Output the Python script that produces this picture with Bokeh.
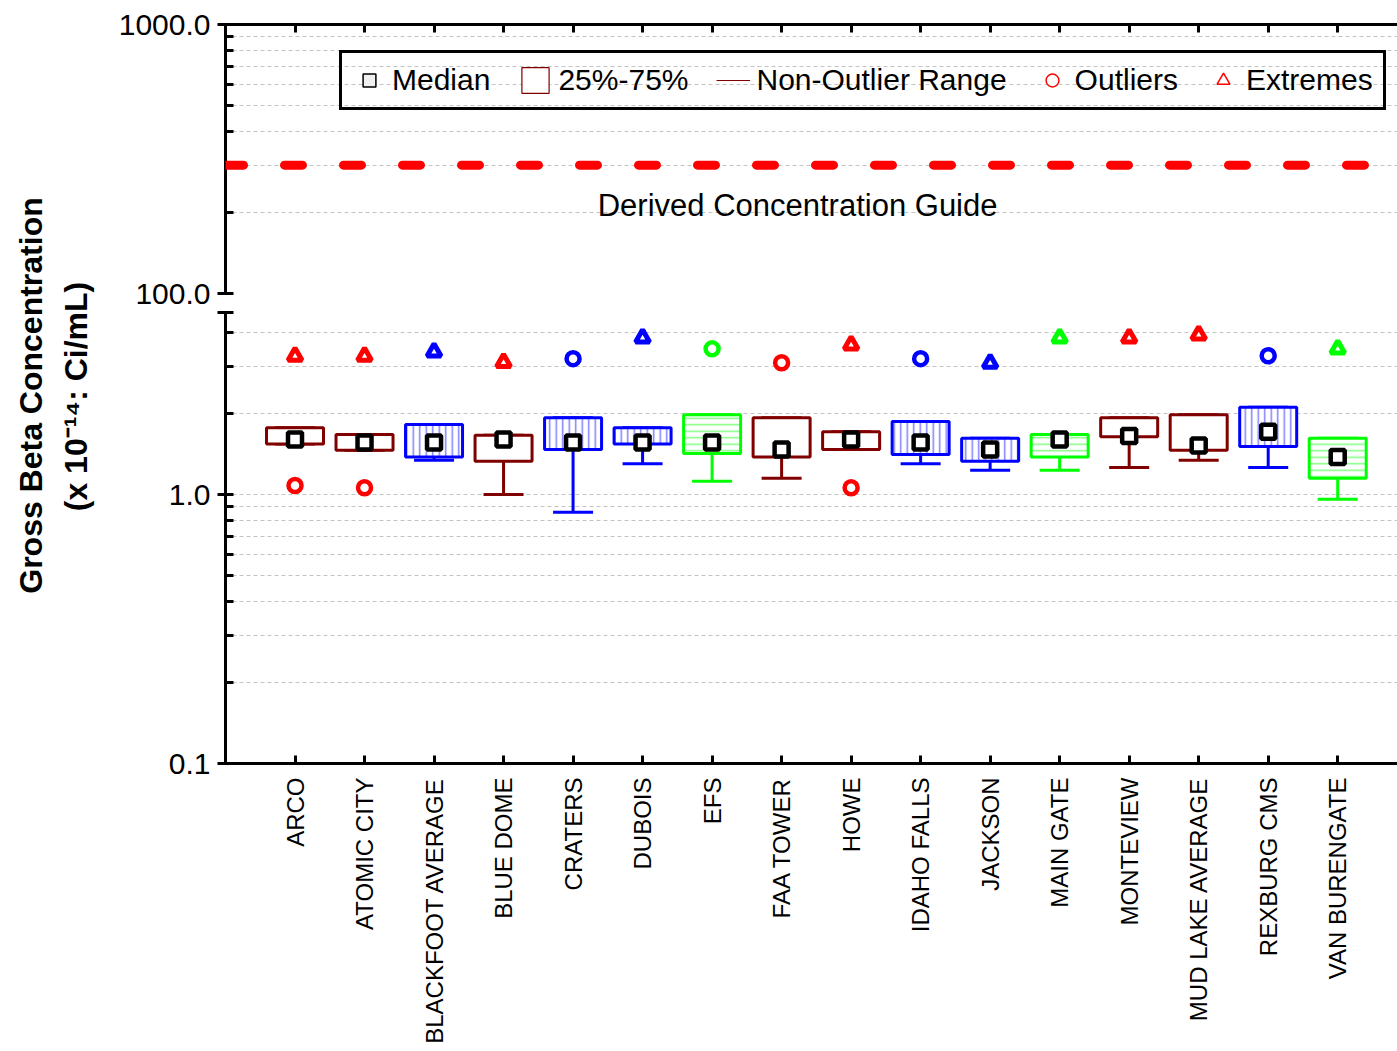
import math
from bokeh.plotting import figure
from bokeh.layouts import row, column
from bokeh.models import (ColumnDataSource, FixedTicker, CustomJSTickFormatter, Span, Label,
                          Legend, LegendItem, Range1d)
from bokeh.embed import file_html
from bokeh.resources import INLINE

# ---------------- data ----------------
categories = ["ARCO", "ATOMIC CITY", "BLACKFOOT AVERAGE", "BLUE DOME", "CRATERS", "DUBOIS", "EFS",
              "FAA TOWER", "HOWE", "IDAHO FALLS", "JACKSON", "MAIN GATE", "MONTEVIEW",
              "MUD LAKE AVERAGE", "REXBURG CMS", "VAN BURENGATE"]
station_group = ["Boundary", "Boundary", "Distant", "Boundary", "Distant", "Distant", "INL Site",
                 "Boundary", "Boundary", "Distant", "Distant", "INL Site", "Boundary",
                 "Boundary", "Distant", "INL Site"]
median = [1.60, 1.56, 1.56, 1.60, 1.56, 1.56, 1.56, 1.47, 1.60, 1.56, 1.47, 1.60, 1.65, 1.52, 1.71, 1.38]
q1 = [1.54, 1.46, 1.38, 1.33, 1.47, 1.54, 1.42, 1.38, 1.47, 1.41, 1.33, 1.38, 1.64, 1.46, 1.51, 1.15]
q3 = [1.77, 1.67, 1.82, 1.66, 1.93, 1.77, 1.98, 1.93, 1.71, 1.87, 1.62, 1.67, 1.93, 1.98, 2.11, 1.62]
nonoutlier_min = [1.54, 1.46, 1.34, 1.00, 0.86, 1.30, 1.12, 1.15, 1.47, 1.30, 1.23, 1.23, 1.26, 1.34, 1.26, 0.96]
nonoutlier_max = [1.77, 1.67, 1.82, 1.66, 1.93, 1.77, 1.98, 1.93, 1.71, 1.87, 1.62, 1.67, 1.93, 1.98, 2.11, 1.62]

outlier_station = ["ARCO", "ATOMIC CITY", "CRATERS", "EFS", "FAA TOWER", "HOWE", "IDAHO FALLS", "REXBURG CMS"]
outlier_value = [1.08, 1.06, 3.20, 3.48, 3.09, 1.06, 3.20, 3.28]
extreme_station = ["ARCO", "ATOMIC CITY", "BLACKFOOT AVERAGE", "BLUE DOME", "DUBOIS", "HOWE", "JACKSON",
                   "MAIN GATE", "MONTEVIEW", "MUD LAKE AVERAGE", "VAN BURENGATE"]
extreme_value = [3.27, 3.27, 3.39, 3.10, 3.82, 3.60, 3.08, 3.82, 3.82, 3.92, 3.48]

dcg_value = 300.0
dcg_label = "Derived Concentration Guide"
upper_range = (100, 1000)
lower_range = (0.1, 4.75)
upper_major_ticks = [100, 1000]
upper_minor_ticks = [200, 300, 400, 500, 600, 700, 800, 900]
lower_major_ticks = [0.1, 1, 4.75]
lower_minor_ticks = [0.2, 0.3, 0.4, 0.5, 0.6, 0.7, 0.8, 0.9, 2, 3, 4]
ylabel_1 = "Gross Beta Concentration"
ylabel_2 = "(x 10\u207b\u00b9\u2074: Ci/mL)"

# ---------------- styles ----------------
FONT = "Liberation Sans"
box_color = {"Boundary": "#800000", "Distant": "#0000ff", "INL Site": "#00ff00"}
point_color = {"Boundary": "#ff0000", "Distant": "#0000ff", "INL Site": "#00ff00"}
hatch_kind = {"Boundary": " ", "Distant": "|", "INL Site": "-"}
hatch_col = {"Boundary": "#ffffff", "Distant": "#8080ff", "INL Site": "#80ff80"}
GRID = "#c4c4c4"

xpos = [i + 1 for i in range(len(categories))]
group_of = dict(zip(categories, station_group))

FIG_W = 1287
LEFT = 115
X_END = 16.86


def style_common(p):
    p.outline_line_color = None
    p.background_fill_color = "white"
    p.border_fill_color = "white"
    p.xgrid.visible = False
    p.ygrid.grid_line_color = GRID
    p.ygrid.grid_line_dash = "4 3"
    p.ygrid.grid_line_width = 1
    p.ygrid.minor_grid_line_color = GRID
    p.ygrid.minor_grid_line_dash = "4 3"
    p.ygrid.minor_grid_line_width = 1
    for ax in p.axis:
        ax.axis_line_width = 3
        ax.axis_line_color = "black"
        ax.major_tick_line_width = 3
        ax.major_tick_line_color = "black"
        ax.minor_tick_line_width = 3
        ax.minor_tick_line_color = "black"
        ax.major_label_text_font = FONT
        ax.major_label_text_color = "black"
    p.yaxis.major_tick_in = 8
    p.yaxis.major_tick_out = 8
    p.yaxis.minor_tick_in = 8
    p.yaxis.minor_tick_out = 0
    p.yaxis.major_label_text_font_size = "30px"
    p.yaxis.major_label_standoff = 7
    p.xaxis.major_tick_in = 8
    p.xaxis.major_tick_out = 0
    p.xaxis.minor_tick_line_color = None
    p.xaxis.ticker = FixedTicker(ticks=xpos)


# ---------------- upper panel (100 - 1000) ----------------
up = figure(width=FIG_W, height=310, x_range=Range1d(0, X_END), y_range=Range1d(*upper_range),
            y_axis_type="log", x_axis_location="above", output_backend="svg", toolbar_location=None,
            min_border_left=LEFT, min_border_right=0, min_border_top=24, min_border_bottom=17)
up.yaxis.ticker = FixedTicker(ticks=upper_major_ticks, minor_ticks=upper_minor_ticks)
up.yaxis.formatter = CustomJSTickFormatter(code="return tick.toFixed(1);")
style_common(up)
up.xaxis.formatter = CustomJSTickFormatter(code="return '';")
up.xaxis.major_label_text_font_size = "1px"

up.add_layout(Span(location=dcg_value, dimension="width", line_color="#ff0000", line_width=9,
                   line_dash="18 41", line_cap="round"))
up.add_layout(Label(x=8.23, y=212, text=dcg_label, text_align="center", text_baseline="middle",
                    text_font=FONT, text_font_size="31px", text_color="black"))

# Key renderers: the same series, hidden in the upper panel; only their legend keys are shown.
key_src = ColumnDataSource(dict(x=xpos, med=median, q1=q1, q3=q3, lo=nonoutlier_min))
lg_med = up.scatter(x="x", y="med", source=key_src, marker="square", size=12, line_color="black",
                    line_width=1.5, fill_color="#f0f0f0")
lg_box = up.vbar(x="x", top="q3", bottom="q1", width=0.8, source=key_src, line_color="#800000",
                 line_width=1.2, fill_color="white")
lg_whisk = up.segment(x0="x", y0="lo", x1="x", y1="q1", source=key_src, line_color="#800000",
                      line_width=1.2)
lg_out = up.scatter(x=[categories.index(s) + 1 for s in outlier_station], y=outlier_value,
                    marker="circle", size=12, line_color="#ff0000", line_width=1.5, fill_color="white")
lg_ext = up.scatter(x=[categories.index(s) + 1 for s in extreme_station], y=extreme_value,
                    marker="triangle", size=12, line_color="#ff0000", line_width=1.5, fill_color="white")
for r in (lg_med, lg_box, lg_whisk, lg_out, lg_ext):
    r.visible = False
legend = Legend(items=[LegendItem(label="Median", renderers=[lg_med]),
                       LegendItem(label="25%-75%", renderers=[lg_box]),
                       LegendItem(label="Non-Outlier Range", renderers=[lg_whisk]),
                       LegendItem(label="Outliers", renderers=[lg_out]),
                       LegendItem(label="Extremes", renderers=[lg_ext])],
                orientation="horizontal", location=(114, 183),
                label_text_font=FONT, label_text_font_size="30px", label_text_color="black",
                glyph_width=34, glyph_height=32, label_standoff=6, spacing=28, padding=10, margin=0,
                border_line_color="black", border_line_width=3, border_line_alpha=1.0,
                background_fill_alpha=0)
up.add_layout(legend)

# ---------------- lower panel (0.1 - 5) ----------------
lo = figure(width=FIG_W, height=741, x_range=Range1d(0, X_END), y_range=Range1d(*lower_range),
            y_axis_type="log", output_backend="svg", toolbar_location=None,
            min_border_left=LEFT, min_border_right=0, min_border_top=2, min_border_bottom=288)
lo.yaxis.ticker = FixedTicker(ticks=lower_major_ticks, minor_ticks=lower_minor_ticks)
lo.yaxis.formatter = CustomJSTickFormatter(code="return tick > 2 ? '' : tick.toFixed(1);")
style_common(lo)
lo.xaxis.formatter = CustomJSTickFormatter(args=dict(names=categories),
                                           code="return names[Math.round(tick) - 1] || '';")
lo.xaxis.major_label_orientation = math.pi / 2
lo.xaxis.major_label_text_font_size = "24px"
lo.xaxis.major_label_standoff = 14

box_src = ColumnDataSource(dict(
    x=xpos, med=median, q1=q1, q3=q3, lo=nonoutlier_min, hi=nonoutlier_max,
    line=[box_color[g] for g in station_group],
    hatch=[hatch_kind[g] for g in station_group],
    hcol=[hatch_col[g] for g in station_group]))

lo.segment(x0="x", y0="lo", x1="x", y1="q1", source=box_src, line_color="line", line_width=3)
lo.segment(x0="x", y0="q3", x1="x", y1="hi", source=box_src, line_color="line", line_width=3)
lo.scatter(x="x", y="lo", source=box_src, marker="dash", size=40, line_color="line", line_width=3)
lo.scatter(x="x", y="hi", source=box_src, marker="dash", size=40, line_color="line", line_width=3)
lo.vbar(x="x", bottom="q1", top="q3", width=0.82, source=box_src, fill_color="white",
        line_color="line", line_width=3, hatch_pattern="hatch", hatch_color="hcol",
        hatch_scale=6.5, hatch_weight=1.5)

out_src = ColumnDataSource(dict(
    x=[categories.index(s) + 1 for s in outlier_station], y=outlier_value,
    c=[point_color[group_of[s]] for s in outlier_station]))
ext_src = ColumnDataSource(dict(
    x=[categories.index(s) + 1 for s in extreme_station], y=extreme_value,
    c=[point_color[group_of[s]] for s in extreme_station]))
lo.scatter(x="x", y="y", source=out_src, marker="circle", size=13, line_color="c", line_width=4.5,
           fill_color="white")
lo.scatter(x="x", y="y", source=ext_src, marker="triangle", size=14, line_color="c", line_width=5,
           fill_color="white")

lo.scatter(x="x", y="med", source=box_src, marker="square", size=14, line_color="black",
           line_width=4.5, fill_color="white")

# ---------------- y-axis title strip ----------------
lab = figure(width=110, height=1051, x_range=Range1d(0, 110), y_range=Range1d(1051, 0),
             x_axis_location=None, y_axis_location=None, min_border=0, output_backend="svg",
             toolbar_location=None)
lab.outline_line_color = None
lab.grid.visible = False
lab.add_layout(Label(x=30, y=395, text=ylabel_1, angle=math.pi / 2, text_align="center",
                     text_baseline="middle", text_font=FONT, text_font_size="32px",
                     text_font_style="bold", text_color="black"))
lab.add_layout(Label(x=75, y=396, text=ylabel_2, angle=math.pi / 2, text_align="center",
                     text_baseline="middle", text_font=FONT, text_font_size="32px",
                     text_font_style="bold", text_color="black"))

layout = row(lab, column(up, lo))
open("out.html", "w").write(file_html(layout, INLINE))
